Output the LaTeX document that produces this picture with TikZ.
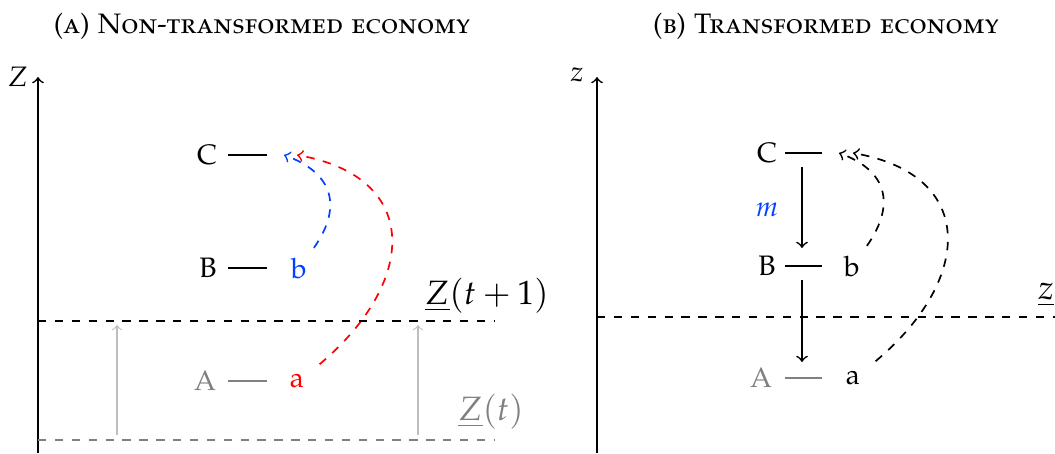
\documentclass[tikz,border=0pt]{standalone}
\usepackage[T1]{fontenc}
\usepackage[sc]{mathpazo}
\usepackage{amsmath,amssymb}
\usepackage{xcolor}
\usepackage{tikz}
\definecolor{myblue}{RGB}{0,64,255}
\definecolor{mygray}{RGB}{128,128,128}
\definecolor{lightgray}{RGB}{190,190,190}

\begin{document}
\begin{tikzpicture}[
    x=0.0125cm, y=0.0125cm,
    level/.style={thick},
    axis/.style={->, semithick},
    jump/.style={->, dashed, semithick},
    thres/.style={dashed, semithick},
    drift/.style={->, lightgray, thin}
]
    \useasboundingbox (0,0) rectangle (1055,453);

    % (a) non-transformed economy
    \node (titleA) at (262,426) {\textsc{(a) Non-transformed economy}};
    \coordinate (origA) at (38,0);
    \coordinate (topA) at (38,376);
    \draw[axis] (origA) -- (topA);
    \node (ZA) at (18,376) {$Z$};

    \node (CA) at (207,298) {C};
    \node (BA) at (208,185) {B};
    \node[mygray] (AA) at (205,72) {A};
    \node[myblue] (bA) at (299,185) {b};
    \node[red] (aA) at (297,72) {a};
    \coordinate (tipbA) at (284,298);
    \coordinate (tipaA) at (297,298);
    \draw[level] (228,298) -- (267,298);
    \draw[level] (228,185) -- (267,185);
    \draw[level, mygray] (228,72) -- (267,72);

    \coordinate (newL) at (38,132);
    \coordinate (newR) at (495,132);
    \coordinate (oldL) at (38,13);
    \coordinate (oldR) at (495,13);
    \draw[thres] (newL) -- (newR);
    \draw[thres, mygray] (oldL) -- (oldR);
    \node (newZ) at (487,157) {\large$\underline{Z}(t+1)$};
    \node[mygray] (oldZ) at (491,41) {\large$\underline{Z}(t)$};
    \draw[drift] (117,18) -- (117,128);
    \draw[drift] (418,18) -- (418,128);

    \draw[jump, myblue] ([xshift=-1pt]bA.north east) to[out=55, in=-20, looseness=1.35] (tipbA);
    \draw[jump, red] ([xshift=2pt]aA.north east) to[out=40, in=-10, looseness=1.55] (tipaA);

    % (b) transformed economy
    \node (titleB) at (826,426) {\textsc{(b) Transformed economy}};
    \coordinate (origB) at (597,0);
    \coordinate (topB) at (597,376);
    \draw[axis] (origB) -- (topB);
    \node (zB) at (577,378) {$z$};

    \node (CB) at (767,300) {C};
    \node (BB) at (767,187) {B};
    \node[mygray] (AB) at (761,75) {A};
    \node (bB) at (852,187) {b};
    \node (aB) at (853,75) {a};
    \coordinate (tipbB) at (839,300);
    \coordinate (tipaB) at (853,300);
    \draw[level] (785,300) -- (822,300);
    \draw[level] (785,187) -- (822,187);
    \draw[level, mygray] (785,75) -- (822,75);

    \coordinate (m1) at (802,286);
    \coordinate (m2) at (802,205);
    \coordinate (m3) at (802,173);
    \coordinate (m4) at (802,91);
    \draw[->, semithick] (m1) -- (m2);
    \draw[->, semithick] (m3) -- (m4);
    \node[myblue] (mB) at (767,243) {$m$};

    \coordinate (thL) at (597,136);
    \coordinate (thR) at (1055,136);
    \draw[thres] (thL) -- (thR);
    \node (thz) at (1046,158) {\large$\underline{z}$};

    \draw[jump] ([xshift=-1pt]bB.north east) to[out=55, in=-20, looseness=1.35] (tipbB);
    \draw[jump] ([xshift=2pt]aB.north east) to[out=40, in=-10, looseness=1.55] (tipaB);
\end{tikzpicture}
\end{document}
